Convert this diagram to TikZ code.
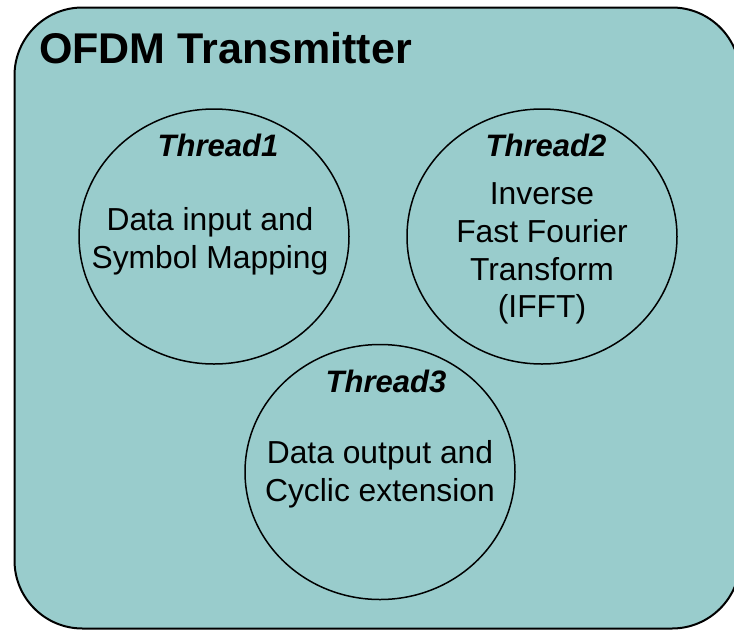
\documentclass[tikz,border=0pt]{standalone}
\usepackage{fontspec}
\setmainfont{Liberation Sans}
\usetikzlibrary{shapes.geometric}
\definecolor{panelfill}{RGB}{153,204,204}
\tikzset{
  panel/.style={draw=black, line width=2pt, fill=panelfill, rounded corners=68pt},
  threadring/.style={draw=black, line width=1.5pt, ellipse, minimum width=270pt, minimum height=255pt, inner sep=0pt},
  titletext/.style={anchor=base west, inner sep=0pt, font=\fontsize{43}{50}\selectfont\bfseries},
  threadname/.style={anchor=base, inner sep=0pt, font=\fontsize{31}{38}\selectfont\bfseries\itshape},
  threadbody/.style={anchor=base, inner sep=0pt, align=center, font=\fontsize{31.8}{38}\selectfont}
}
\begin{document}
\begin{tikzpicture}[x=1pt, y=-1pt]
  \useasboundingbox (0,0) rectangle (734,630);
  \clip (0,0) rectangle (734,630);
  % outer panel, running past the right edge
  \draw[panel] (14.5,7.5) rectangle (740,628.5);
  \node[titletext] (title) at (39,63.3) {OFDM Transmitter};

  % the three thread rings
  \node[threadring] (t1) at (214,236.5) {};
  \node[threadring] (t2) at (542,236.5) {};
  \node[threadring] (t3) at (380,472) {};

  % thread 1
  \node[threadname] (t1name) at (218,156.7) {Thread1};
  \node[threadbody] (t1a) at (210,230) {Data input and};
  \node[threadbody] (t1b) at (210,268) {Symbol Mapping};

  % thread 2
  \node[threadname] (t2name) at (546,156.7) {Thread2};
  \node[threadbody] (t2a) at (542,204.3) {Inverse};
  \node[threadbody] (t2b) at (542,242.3) {Fast Fourier};
  \node[threadbody] (t2c) at (542,280) {Transform};
  \node[threadbody] (t2d) at (542,317.7) {(IFFT)};

  % thread 3
  \node[threadname] (t3name) at (386,392.7) {Thread3};
  \node[threadbody] (t3a) at (380,463.3) {Data output and};
  \node[threadbody] (t3b) at (380,501.7) {Cyclic extension};
\end{tikzpicture}
\end{document}
